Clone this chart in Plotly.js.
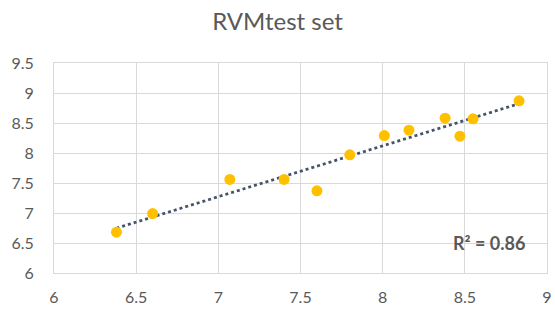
<!DOCTYPE html>
<html><head><meta charset="utf-8">
<script src="https://cdn.plot.ly/plotly-3.0.1.min.js"></script>
<style>html,body{margin:0;padding:0;background:#fff}</style>
</head><body><div id="chart" style="width:555px;height:315px"></div>
<script>
const xValues = [6.38, 6.60, 7.07, 7.40, 7.60, 7.80, 8.01, 8.16, 8.38, 8.47, 8.55, 8.83];
const yValues = [6.68, 6.99, 7.56, 7.56, 7.37, 7.97, 8.29, 8.38, 8.58, 8.28, 8.57, 8.87];
const xTicks = [6, 6.5, 7, 7.5, 8, 8.5, 9];
const yTicks = [6, 6.5, 7, 7.5, 8, 8.5, 9, 9.5];
const r2Label = 'R² = 0.86';

// least-squares trendline from data
const n = xValues.length;
const mx = xValues.reduce((a,b)=>a+b,0)/n, my = yValues.reduce((a,b)=>a+b,0)/n;
let sxy=0, sxx=0;
for (let i=0;i<n;i++){ sxy+=(xValues[i]-mx)*(yValues[i]-my); sxx+=(xValues[i]-mx)**2; }
const slope = sxy/sxx, icpt = my - slope*mx;
const xMin = Math.min(...xValues), xMax = Math.max(...xValues);
const trendX = [xMin, xMax], trendY = trendX.map(x=>icpt+slope*x);

const grey = '#595959', grid = '#d9d9d9';
const font = 'Lato, Open Sans, sans-serif';
Plotly.newPlot('chart', [
  {x: trendX, y: trendY, mode:'lines', line:{color:'#44546A', width:2.75, dash:'dot'}, hoverinfo:'skip'},
  {x: xValues, y: yValues, mode:'markers', marker:{color:'#FFC000', size:11}}
], {
  width:555, height:315, showlegend:false,
  margin:{l:54, r:8, t:63, b:42},
  paper_bgcolor:'#fff', plot_bgcolor:'#fff',
  title:{text:'RVMtest set', x:0.5, xanchor:'center', y:0.93, yanchor:'middle', font:{family:font, size:24, color:grey}},
  xaxis:{range:[6,9], tickvals:xTicks, ticktext:xTicks.map(String), showgrid:true, gridcolor:grid, gridwidth:1,
    zeroline:false, showline:true, linecolor:grid, mirror:true, ticks:'outside', ticklen:10, tickcolor:'rgba(0,0,0,0)',
    tickfont:{family:font, size:16, color:grey}},
  yaxis:{range:[6,9.5], tickvals:yTicks, ticktext:yTicks.map(String), showgrid:true, gridcolor:grid, gridwidth:1,
    zeroline:false, showline:true, linecolor:grid, mirror:true, ticks:'outside', ticklen:16, tickcolor:'rgba(0,0,0,0)',
    tickfont:{family:font, size:16, color:grey}},
  annotations:[{x:8.65, y:6.5, xref:'x', yref:'y', text:'<b>'+r2Label+'</b>', showarrow:false,
    font:{family:font, size:18, color:grey}}]
}, {displayModeBar:false, staticPlot:true});
</script></body></html>
